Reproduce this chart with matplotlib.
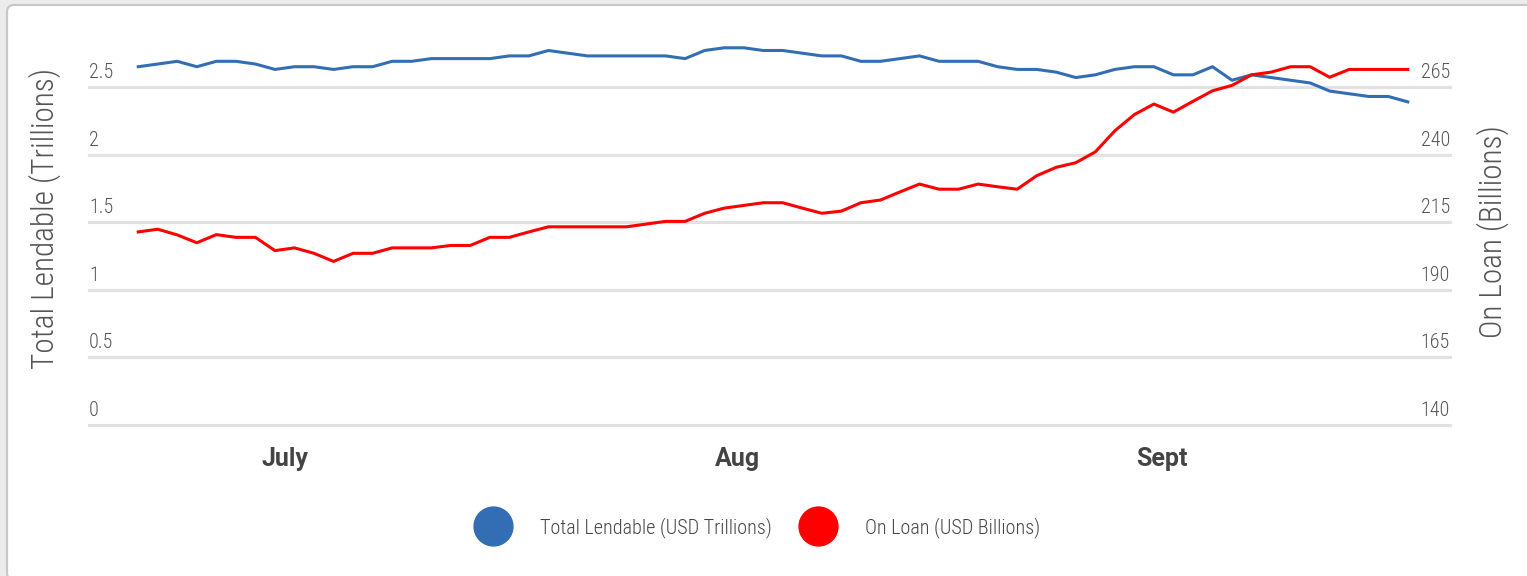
import matplotlib
matplotlib.use("Agg")
import matplotlib.pyplot as plt
from matplotlib import font_manager, transforms
from matplotlib.lines import Line2D
from matplotlib.patches import FancyBboxPatch

# valores (66 pregões, jul-set)
total_lendable = [2.65, 2.67, 2.69, 2.65, 2.69, 2.69, 2.67, 2.63, 2.65, 2.65,
                  2.63, 2.65, 2.65, 2.69, 2.69, 2.71, 2.71, 2.71, 2.71, 2.73,
                  2.73, 2.77, 2.75, 2.73, 2.73, 2.73, 2.73, 2.73, 2.71, 2.77,
                  2.79, 2.79, 2.77, 2.77, 2.75, 2.73, 2.73, 2.69, 2.69, 2.71,
                  2.73, 2.69, 2.69, 2.69, 2.65, 2.63, 2.63, 2.61, 2.57, 2.59,
                  2.63, 2.65, 2.65, 2.59, 2.59, 2.65, 2.55, 2.59, 2.57, 2.55,
                  2.53, 2.47, 2.45, 2.43, 2.43, 2.39]
on_loan = [211.4, 212.4, 210.3, 207.4, 210.4, 209.4, 209.4, 204.5, 205.5, 203.5,
           200.5, 203.5, 203.5, 205.5, 205.5, 205.5, 206.4, 206.4, 209.4, 209.4,
           211.4, 213.3, 213.3, 213.3, 213.3, 213.3, 214.3, 215.3, 215.3, 218.3,
           220.2, 221.2, 222.2, 222.2, 220.2, 218.3, 219.1, 222.2, 223.2, 226.2,
           229.1, 227.2, 227.2, 229.1, 228.1, 227.2, 232.2, 235.3, 237.0, 241.0,
           248.8, 254.8, 258.7, 255.7, 259.7, 263.6, 265.6, 269.5, 270.5, 272.5,
           272.5, 268.6, 271.5, 271.5, 271.5, 271.5]
month_labels = ["July", "Aug", "Sept"]
month_pos = [7.5, 30.7, 52.4]
left_ticks = [0, 0.5, 1, 1.5, 2, 2.5]
right_ticks = [140, 165, 190, 215, 240, 265]

BLUE = "#336eb4"
RED = "#ff0000"
GRAY = "#555555"

# fonte estreita se existir
installed = {f.name for f in font_manager.fontManager.ttflist}
THIN = next((n for n in ["Roboto Condensed", "Liberation Sans Narrow", "Roboto"]
             if n in installed), "DejaVu Sans")

W, H = 1527, 576
fig = plt.figure(figsize=(W / 100, H / 100), dpi=100)
fig.patch.set_facecolor("#ececec")

# moldura arredondada (lado direito e base saem da imagem)
card = FancyBboxPatch((7, -4), 1580, 575, boxstyle="round,pad=0,rounding_size=7",
                      transform=transforms.IdentityTransform(),
                      facecolor="white", edgecolor="#c8c8c8", linewidth=1.6, zorder=-1)
fig.add_artist(card)

ax = fig.add_axes([89 / W, 1 - 425 / H, 1361 / W, 405.6 / H])
ax.set_facecolor("none")
x = range(len(total_lendable))
ax.plot(x, total_lendable, color=BLUE, lw=2.2)
ax.set_xlim(-2.52, 67.16)
ax.set_ylim(0, 3.0)
ax.set_yticks(left_ticks)
ax.grid(axis="y", color="#e2e2e2", lw=2.3)
ax.set_axisbelow(True)
for gl in ax.get_ygridlines():
    gl.set_clip_on(False)
ax.tick_params(length=0, labelleft=False)
ax.set_xticks(month_pos, month_labels, fontsize=18, fontweight="bold",
              color="#444444", family="Roboto")
ax.tick_params(axis="x", pad=16)

ax2 = ax.twinx()
ax2.plot(x, on_loan, color=RED, lw=2.2)
ax2.set_ylim(140, 290)
ax2.set_yticks(right_ticks)
ax2.tick_params(length=0, labelright=False)
for a in (ax, ax2):
    for s in a.spines.values():
        s.set_visible(False)

tl = transforms.offset_copy(ax.get_yaxis_transform(), fig=fig, y=5, units="dots")
for v in left_ticks:
    ax.text(0, v, f"{v:g}", transform=tl, ha="left", va="bottom",
            fontsize=14.5, color=GRAY, family=THIN, fontweight="light")
tr = transforms.offset_copy(ax2.get_yaxis_transform(), fig=fig, y=5, units="dots")
for v in right_ticks:
    ax2.text(1, v, f"{v:g}", transform=tr, ha="right", va="bottom",
             fontsize=14.5, color=GRAY, family=THIN, fontweight="light")

ax.set_ylabel("Total Lendable (Trillions)", fontsize=22.5, color=GRAY,
              family=THIN, fontweight="light", va="center")
ax.yaxis.set_label_coords(-0.0325, 0.508)
ax2.set_ylabel("On Loan (Billions)", fontsize=22.5, color=GRAY,
               family=THIN, fontweight="light", va="center", rotation=90)
ax2.yaxis.set_label_coords(1.0316, 0.476)

handles = [Line2D([], [], ls="none", marker="o", ms=28, color=BLUE),
           Line2D([], [], ls="none", marker="o", ms=28, color=RED)]
leg = fig.legend(handles, ["Total Lendable (USD Trillions)", "On Loan (USD Billions)"],
                 loc="center", bbox_to_anchor=(0.4967, 0.085), ncol=2, frameon=False,
                 handlelength=1.6, handletextpad=1.55, columnspacing=1.5,
                 prop={"family": THIN, "size": 14.5, "weight": "light"})
for t in leg.get_texts():
    t.set_color("#444444")

fig.savefig("out.png", dpi=100, facecolor=fig.get_facecolor())
